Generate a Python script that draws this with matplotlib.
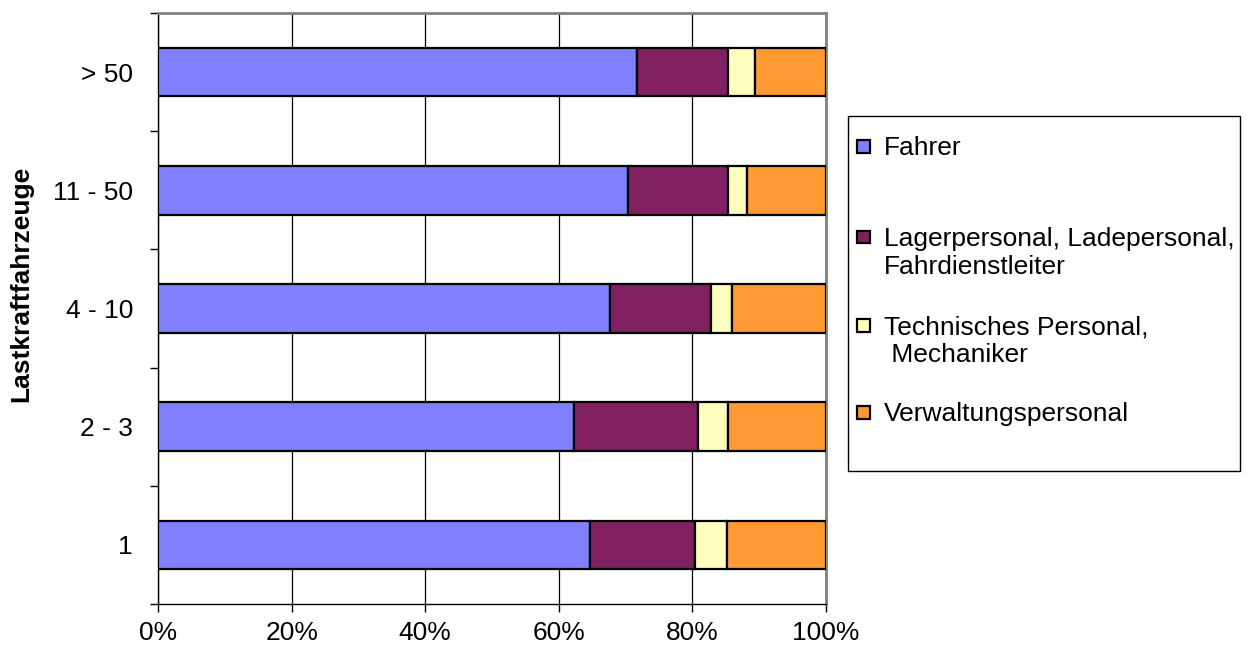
import matplotlib.pyplot as plt
import numpy as np
from matplotlib.patches import Rectangle
from matplotlib.ticker import FixedLocator, PercentFormatter

plt.rcParams['font.family'] = ['Liberation Sans', 'DejaVu Sans']

# Categories (bottom to top) and shares in percent
groups = ["1", "2 - 3", "4 - 10", "11 - 50", "> 50"]
fahrer = [64.7, 62.3, 67.7, 70.4, 71.7]
lager = [15.7, 18.5, 15.1, 14.9, 13.6]
technik = [4.8, 4.5, 3.1, 2.9, 4.1]
verwaltung = [14.8, 14.7, 14.1, 11.8, 10.6]

series = [fahrer, lager, technik, verwaltung]
labels = ["Fahrer", "Lagerpersonal, Ladepersonal,\nFahrdienstleiter",
          "Technisches Personal,\n Mechaniker", "Verwaltungspersonal"]
colors = ["#8080FF", "#802060", "#FFFFC0", "#FF9933"]

fig = plt.figure(figsize=(12.47, 6.48), dpi=100)
ax = fig.add_axes([158 / 1247, 1 - 604 / 648, 668 / 1247, 591 / 648])

y = np.arange(len(groups))
left = np.zeros(len(groups))
for vals, col in zip(series, colors):
    ax.barh(y, vals, left=left, height=0.41, color=col, edgecolor="black",
            linewidth=1.6, zorder=3)
    left += np.array(vals)

ax.set_xlim(0, 100)
ax.set_ylim(-0.5, len(groups) - 0.5)
ax.set_xticks(np.arange(0, 101, 20))
ax.xaxis.set_major_formatter(PercentFormatter(decimals=0))
ax.xaxis.grid(True, color="black", linewidth=0.9, zorder=0)

ax.set_yticks(y)
ax.set_yticklabels(groups)
ax.yaxis.set_minor_locator(FixedLocator(np.arange(-0.5, len(groups), 1)))
ax.tick_params(axis="y", which="major", length=0, pad=18, labelsize=19)
ax.tick_params(axis="y", which="minor", length=6, width=1, direction="out")
ax.tick_params(axis="x", length=6, width=1, direction="out", labelsize=19, pad=6)

for s in ["top", "right"]:
    ax.spines[s].set_color("#808080")
    ax.spines[s].set_linewidth(2)
for s in ["left", "bottom"]:
    ax.spines[s].set_linewidth(1)

ax.set_ylabel("Lastkraftfahrzeuge", fontsize=19, fontweight="bold")
ax.yaxis.set_label_coords((33 - 158) / 668, (604 - 284) / 591)

# Legend drawn as in the original, marker at first text line
W, H = 1247, 648
fig.patches.append(Rectangle((848 / W, 1 - 471 / H), (1240 - 848) / W, (471 - 116) / H,
                             transform=fig.transFigure, facecolor="white",
                             edgecolor="black", linewidth=1))
ys = [146, 237, 325, 412]
for lab, col, yy in zip(labels, colors, ys):
    fig.patches.append(Rectangle((857 / W, 1 - (yy + 6.5) / H), 12.5 / W, 12.5 / H,
                                 transform=fig.transFigure, facecolor=col,
                                 edgecolor="black", linewidth=1.6))
    fig.text(884 / W, 1 - (yy - 10) / H, lab, fontsize=19, va="top", ha="left",
             linespacing=1.2)

fig.savefig("out.png", dpi=100)
